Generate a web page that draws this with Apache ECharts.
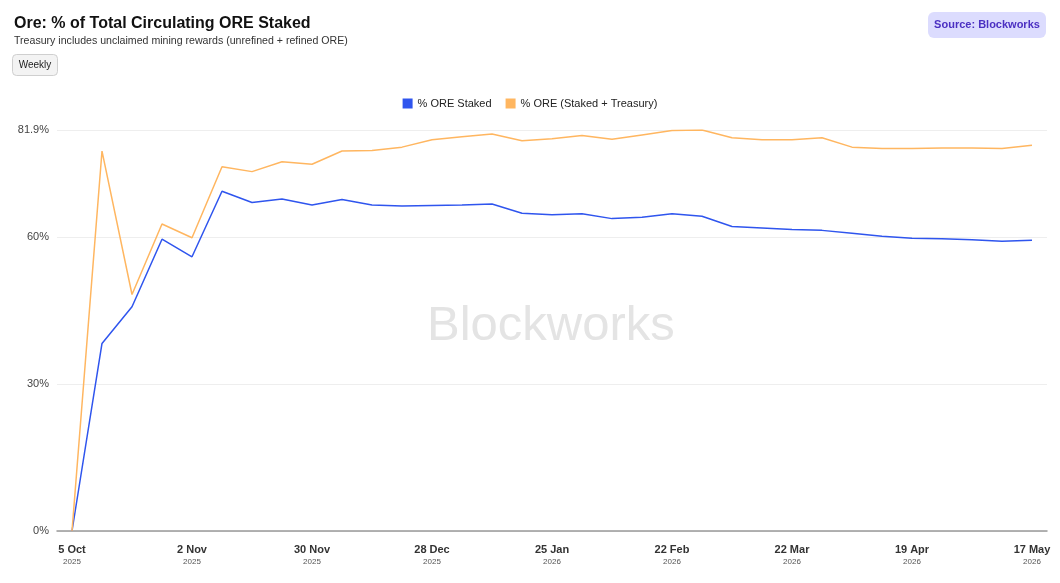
<!DOCTYPE html>
<html>
<head>
<meta charset="utf-8">
<script src="https://cdn.jsdelivr.net/npm/echarts@6/dist/echarts.min.js"></script>
<style>
  html, body { margin: 0; padding: 0; background: #fff; }
  #chart { width: 1060px; height: 583px; }
</style>
</head>
<body>
<div id="chart"></div>
<script>
// weekly points, 5 Oct 2025 .. 17 May 2026
const weeks = [
  '2025-10-05', '2025-10-12', '2025-10-19', '2025-10-26',
  '2025-11-02', '2025-11-09', '2025-11-16', '2025-11-23', '2025-11-30',
  '2025-12-07', '2025-12-14', '2025-12-21', '2025-12-28',
  '2026-01-04', '2026-01-11', '2026-01-18', '2026-01-25',
  '2026-02-01', '2026-02-08', '2026-02-15', '2026-02-22',
  '2026-03-01', '2026-03-08', '2026-03-15', '2026-03-22', '2026-03-29',
  '2026-04-05', '2026-04-12', '2026-04-19', '2026-04-26',
  '2026-05-03', '2026-05-10', '2026-05-17'
];
const staked = [
  0, 38.3, 45.8, 59.6, 56.0, 69.4, 67.1, 67.8, 66.6,
  67.7, 66.6, 66.4, 66.5, 66.6, 66.8, 64.9, 64.6,
  64.8, 63.8, 64.1, 64.8, 64.3, 62.2, 61.9, 61.6, 61.4,
  60.8, 60.2, 59.8, 59.7, 59.5, 59.2, 59.4
];
const stakedTreasury = [
  0, 77.6, 48.3, 62.7, 59.9, 74.4, 73.4, 75.4, 74.9,
  77.6, 77.7, 78.4, 79.9, 80.5, 81.1, 79.7, 80.1,
  80.8, 80.0, 80.9, 81.8, 81.9, 80.3, 79.9, 79.9, 80.3,
  78.4, 78.1, 78.1, 78.2, 78.2, 78.1, 78.8
];
const yTicks = [0, 30, 60];

const months = ['Jan', 'Feb', 'Mar', 'Apr', 'May', 'Jun', 'Jul', 'Aug', 'Sep', 'Oct', 'Nov', 'Dec'];
function fmtWeek(s) {
  const [y, m, d] = s.split('-').map(Number);
  return '{d|' + d + ' ' + months[m - 1] + '}\n{y|' + y + '}';
}

const FONT = '"Liberation Sans", Arial, Helvetica, sans-serif';
const chart = echarts.init(document.getElementById('chart'));

chart.setOption({
  backgroundColor: '#fff',
  textStyle: { fontFamily: FONT },
  animation: false,
  title: {
    text: 'Ore: % of Total Circulating ORE Staked',
    subtext: 'Treasury includes unclaimed mining rewards (unrefined + refined ORE)',
    left: 9,
    top: 11,
    itemGap: 4,
    textStyle: { fontSize: 16, fontWeight: 'bold', color: '#111', fontFamily: FONT },
    subtextStyle: { fontSize: 10.6, color: '#333', fontFamily: FONT }
  },
  graphic: [
    {
      type: 'group',
      left: 12,
      top: 54,
      children: [
        {
          type: 'rect',
          shape: { x: 0, y: 0, width: 45, height: 21, r: 4 },
          style: { fill: '#f3f3f3', stroke: '#cfcfcf', lineWidth: 1 }
        },
        {
          type: 'text',
          x: 22.5,
          y: 10.5,
          style: { text: 'Weekly', fontSize: 10, fill: '#222', align: 'center', verticalAlign: 'middle', fontFamily: FONT }
        }
      ]
    },
    {
      type: 'group',
      right: 14,
      top: 12,
      children: [
        {
          type: 'rect',
          shape: { x: 0, y: 0, width: 118, height: 26, r: 6 },
          style: { fill: '#dcdcfe' }
        },
        {
          type: 'text',
          x: 59,
          y: 13,
          style: { text: 'Source: Blockworks', fontSize: 11, fontWeight: 'bold', fill: '#4b30c2', align: 'center', verticalAlign: 'middle', fontFamily: FONT }
        }
      ]
    },
    {
      type: 'text',
      left: 427,
      top: 302,
      z: -1,
      style: { text: 'Blockworks', fontSize: 49, fill: '#e4e4e4', fontFamily: FONT }
    }
  ],
  legend: {
    top: 93,
    left: 'center',
    itemWidth: 10,
    itemHeight: 10,
    itemGap: 14,
    icon: 'rect',
    textStyle: { fontSize: 11, color: '#222', fontFamily: FONT },
    data: ['% ORE Staked', '% ORE (Staked + Treasury)']
  },
  grid: { left: 57, right: 13, top: 130, bottom: 52, containLabel: false },
  xAxis: {
    type: 'category',
    boundaryGap: true,
    data: weeks,
    axisTick: { show: false },
    axisLine: { lineStyle: { color: '#999', width: 1.5 } },
    axisLabel: {
      interval: 3,
      margin: 12,
      formatter: fmtWeek,
      rich: {
        d: { fontSize: 11, fontWeight: 'bold', color: '#333', lineHeight: 13, fontFamily: FONT },
        y: { fontSize: 8, color: '#555', lineHeight: 11, fontFamily: FONT }
      }
    }
  },
  yAxis: {
    type: 'value',
    min: yTicks[0],
    max: 'dataMax',
    interval: yTicks[1] - yTicks[0],
    axisLine: { show: false },
    axisTick: { show: false },
    splitLine: { lineStyle: { color: '#eeeeee', width: 1 } },
    axisLabel: {
      fontSize: 11,
      color: '#444',
      margin: 8,
      formatter: v => (Math.round(v * 10) / 10) + '%'
    }
  },
  series: [
    {
      name: '% ORE Staked',
      type: 'line',
      data: staked,
      showSymbol: false,
      symbol: 'none',
      itemStyle: { color: '#2f55ee' },
      lineStyle: { color: '#2f55ee', width: 1.5 }
    },
    {
      name: '% ORE (Staked + Treasury)',
      type: 'line',
      data: stakedTreasury,
      showSymbol: false,
      symbol: 'none',
      itemStyle: { color: '#ffb660' },
      lineStyle: { color: '#ffb660', width: 1.5 }
    }
  ]
});
</script>
</body>
</html>
